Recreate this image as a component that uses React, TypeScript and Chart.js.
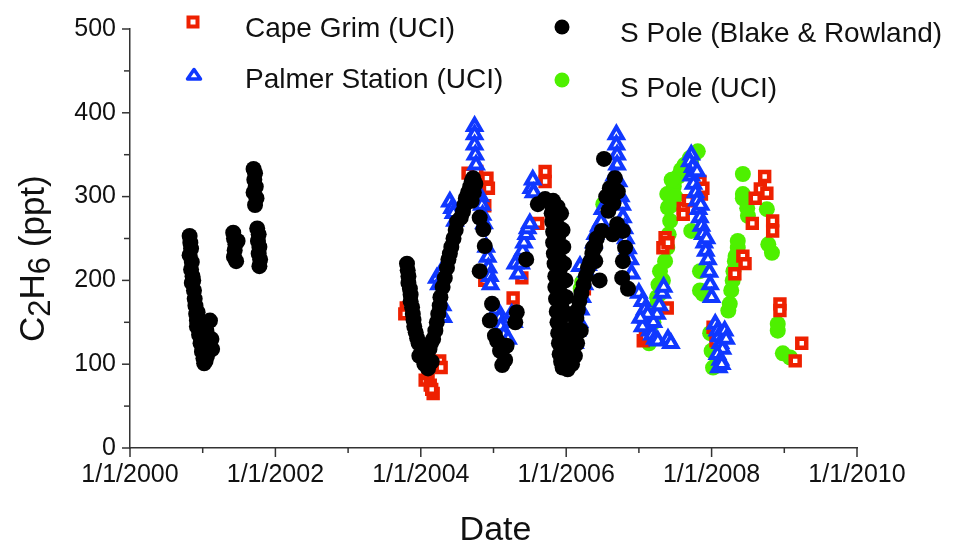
import React, { useEffect, useRef } from 'react';
import { Chart, registerables } from 'chart.js';

Chart.register(...registerables);

// ---------------- data (decimal year, ppt) ----------------
const capeGrimDates = [
  2003.80, 2003.78, 2004.06, 2004.10, 2004.13, 2004.17, 2004.15, 2004.26, 2004.28,
  2004.65, 2004.77, 2004.91, 2004.93, 2004.88, 2004.88,
  2005.27, 2005.39, 2005.61, 2005.71, 2005.71,
  2006.25,
  2007.06, 2007.09, 2007.33, 2007.36, 2007.39, 2007.40,
  2007.61, 2007.61, 2007.68, 2007.84, 2007.86, 2007.88,
  2008.02, 2008.06,
  2008.32, 2008.43, 2008.46,
  2008.56, 2008.60, 2008.67, 2008.73, 2008.76, 2008.84, 2008.84,
  2008.94, 2008.94, 2009.15, 2009.24,
];
const capeGrimValues = [
  167, 160, 81, 89, 75, 65, 70, 104, 96,
  328, 330, 322, 310, 289, 200,
  179, 203, 268, 330, 318,
  190,
  128, 133, 239, 251, 167, 245,
  286, 279, 295, 318, 303, 310,
  144, 128,
  208, 229, 220,
  268, 298, 309, 324, 304, 271, 259,
  172, 164, 104, 125,
];

const palmerDates = [
  2004.22, 2004.25, 2004.28, 2004.31, 2004.30, 2004.40, 2004.43, 2004.47, 2004.45,
  2004.74, 2004.74, 2004.74, 2004.75, 2004.76,
  2004.82, 2004.84, 2004.85, 2004.87, 2004.90, 2004.92, 2004.93, 2004.95, 2004.96,
  2005.05, 2005.08, 2005.10, 2005.14, 2005.20, 2005.25, 2005.28,
  2005.30, 2005.34, 2005.38, 2005.40, 2005.42, 2005.45, 2005.47, 2005.50, 2005.52, 2005.54, 2005.55,
  2006.12, 2006.15, 2006.18, 2006.19, 2006.20, 2006.22, 2006.25, 2006.28, 2006.30, 2006.35, 2006.38,
  2006.40, 2006.45, 2006.48, 2006.50,
  2006.69, 2006.69, 2006.70, 2006.70, 2006.66, 2006.72,
  2006.75, 2006.77, 2006.78, 2006.80, 2006.82, 2006.85, 2006.88, 2006.90,
  2007.00, 2007.05, 2007.08, 2007.10, 2007.12, 2007.15, 2007.18, 2007.22, 2007.26, 2007.20,
  2007.25, 2007.28, 2007.32, 2007.34, 2007.05, 2007.12, 2007.02, 2007.40, 2007.44,
  2007.72, 2007.70, 2007.74, 2007.72, 2007.75, 2007.78, 2007.80, 2007.82, 2007.84, 2007.86,
  2007.88, 2007.90, 2007.92, 2007.95, 2007.97, 2007.98, 2008.00, 2007.80, 2007.85, 2007.93,
  2008.05, 2008.08, 2008.10, 2008.12, 2008.15, 2008.18, 2008.20, 2008.08, 2008.12, 2008.10, 2008.14,
];
const palmerValues = [
  203, 195, 210, 156, 170, 294, 286, 271, 280,
  384, 374, 362, 350, 338,
  300, 290, 278, 268, 240, 228, 215, 205, 195,
  165, 155, 145, 135, 130, 160, 150,
  220, 208, 220, 235, 245, 255, 262, 268, 310, 320, 305,
  125, 140, 150, 217, 165, 180, 195, 210, 218, 230, 245,
  255, 265, 270, 285,
  374, 362, 350, 338, 325, 318,
  300, 290, 275, 262, 250, 238, 225, 208,
  185, 175, 165, 155, 148, 140, 135, 130, 128, 150,
  160, 170, 185, 192, 145, 160, 155, 130, 125,
  350, 342, 335, 325, 315, 305, 295, 285, 275, 265,
  255, 245, 235, 225, 210, 195, 180, 330, 290, 250,
  148, 140, 133, 125, 118, 140, 130, 112, 105, 96, 100,
];

const sPoleBRDates = [
  2000.82, 2000.83, 2000.84, 2000.82, 2000.85, 2000.84, 2000.86, 2000.85, 2000.88, 2000.89,
  2000.90, 2000.93, 2000.92, 2000.92, 2000.95, 2000.97, 2000.99, 2001.01, 2001.02, 2001.06,
  2001.10, 2001.12, 2001.13, 2001.08, 2001.05, 2000.87, 2000.91, 2001.04,
  2001.42, 2001.43, 2001.45, 2001.44, 2001.43, 2001.46, 2001.48,
  2001.70, 2001.72, 2001.71, 2001.73, 2001.70, 2001.74, 2001.72,
  2001.75, 2001.77, 2001.76, 2001.78, 2001.77, 2001.79, 2001.78,
  2003.81, 2003.82, 2003.83, 2003.83, 2003.85, 2003.86, 2003.86, 2003.88, 2003.89, 2003.90,
  2003.91, 2003.93, 2003.95, 2003.97, 2003.98, 2004.02, 2004.05, 2004.08, 2004.10, 2004.15,
  2004.12, 2004.14, 2004.17,
  2004.20, 2004.22, 2004.24, 2004.26, 2004.27, 2004.30, 2004.33, 2004.36, 2004.38, 2004.40,
  2004.42, 2004.45, 2004.48, 2004.50, 2004.55, 2004.58, 2004.60, 2004.62, 2004.65, 2004.68,
  2004.70, 2004.72, 2004.75, 2004.73, 2004.70,
  2004.81, 2004.86, 2004.88, 2004.81, 2004.98, 2004.95, 2005.02, 2005.09, 2005.16, 2005.12,
  2005.05, 2005.18,
  2005.32, 2005.30, 2005.45,
  2005.61, 2005.71, 2005.82,
  2005.80, 2005.88, 2005.80, 2005.87, 2005.81, 2005.88, 2005.82, 2005.89, 2005.82, 2005.90,
  2005.83, 2005.90, 2005.84, 2005.91, 2005.85, 2005.92, 2005.85, 2005.92, 2005.86, 2005.93,
  2005.87, 2005.94, 2005.88, 2005.95, 2005.89, 2005.96, 2005.90, 2005.97, 2005.91, 2005.98,
  2005.93, 2006.00, 2005.95, 2006.02, 2006.00, 2006.03,
  2005.93, 2005.95, 2005.96, 2005.97, 2005.99, 2006.00, 2006.03, 2006.05, 2006.05, 2006.07,
  2006.04, 2006.06, 2006.08, 2006.10, 2006.12, 2006.14, 2006.16, 2006.18, 2006.21, 2006.24,
  2006.27, 2006.30, 2006.33, 2006.36, 2006.40, 2006.42, 2006.08, 2006.12, 2006.15, 2006.20,
  2006.37, 2006.40, 2006.46, 2006.49, 2006.52, 2006.67, 2006.71, 2006.60, 2006.58, 2006.70,
  2006.78, 2006.81, 2006.78, 2006.77, 2006.85, 2006.62, 2006.65, 2006.55, 2006.64,
];
const sPoleBRValues = [
  253, 245, 238, 230, 222, 213, 205, 197, 188, 178,
  170, 162, 152, 145, 135, 125, 115, 107, 101, 110,
  152, 130, 118, 125, 140, 200, 160, 104,
  257, 250, 243, 236, 228, 223, 247,
  333, 328, 320, 312, 305, 298, 290,
  262, 255, 247, 240, 232, 225, 217,
  220, 212, 205, 197, 190, 183, 175, 168, 160, 153,
  145, 138, 131, 125, 110, 108, 100, 112, 95, 103,
  118, 125, 130,
  140, 150, 160, 170, 180, 192, 203, 215, 225, 232,
  240, 250, 260, 270, 275, 282, 290, 298, 305, 312,
  318, 322, 315, 305, 295,
  275, 261, 241, 211, 172, 152, 134, 116, 105, 99,
  128, 122,
  162, 150, 225,
  291, 297, 295,
  290, 288, 280, 278, 270, 265, 258, 252, 245, 240,
  232, 226, 220, 212, 205, 198, 192, 185, 178, 170,
  163, 157, 150, 143, 137, 130, 125, 118, 112, 108,
  103, 100, 96, 94, 110, 120,
  280, 260, 240, 220, 200, 180, 160, 140, 120, 105,
  105, 115, 125, 135, 145, 155, 165, 175, 185, 195,
  205, 215, 222, 232, 240, 250, 100, 110, 125, 140,
  239, 223, 200, 259, 345, 322, 306, 310, 283, 267,
  259, 239, 223, 203, 190, 300, 292, 300, 255,
];

const sPoleUCIDates = [
  2006.20, 2006.22, 2006.51,
  2007.14, 2007.17, 2007.22, 2007.25, 2007.27, 2007.20, 2007.24, 2007.30, 2007.33,
  2007.29, 2007.36, 2007.39, 2007.41, 2007.43, 2007.40, 2007.39, 2007.48, 2007.54, 2007.58,
  2007.45, 2007.50, 2007.45,
  2007.63, 2007.70, 2007.76, 2007.81, 2007.72,
  2007.72, 2007.84, 2007.84, 2007.88,
  2007.98, 2008.00, 2008.02, 2008.09, 2008.16,
  2008.23, 2008.25, 2008.27, 2008.29, 2008.30, 2008.32, 2008.33, 2008.36, 2008.36,
  2008.43, 2008.43, 2008.43, 2008.49, 2008.50, 2008.76, 2008.78, 2008.83,
  2008.91, 2008.91, 2008.98, 2009.08,
];
const sPoleUCIValues = [
  190, 198, 291,
  125, 135, 160, 180, 195, 150, 170, 185, 200,
  211, 223, 239, 255, 271, 287, 303, 312, 324, 332,
  290, 300, 320,
  338, 346, 350, 354, 340,
  259, 211, 188, 184,
  137, 116, 96, 102, 132,
  164, 172, 188, 200, 211, 223, 229, 239, 247,
  327, 298, 303, 286, 277, 285, 243, 233,
  148, 140, 113, 108,
];

const xTickLabelPrefix = '1/1/';
const yAxisTitleParts = [
  { text: 'C', sub: false },
  { text: '2', sub: true },
  { text: 'H', sub: false },
  { text: '6', sub: true },
  { text: ' (ppt)', sub: false },
];
const xAxisTitle = 'Date';

const COLORS = {
  red: '#ee2000',
  blue: '#1038ff',
  black: '#000000',
  green: '#4ef000',
  axis: '#333333',
};
const FONT = '"Liberation Sans", Arial, Helvetica, sans-serif';

const toPoints = (xs: number[], ys: number[]) => xs.map((x, i) => ({ x, y: ys[i] }));

const legendItems = [
  { label: 'Cape Grim (UCI)', style: 'rect', color: COLORS.red, mx: 193, my: 22, tx: 245, ty: 37 },
  { label: 'Palmer Station (UCI)', style: 'triangle', color: COLORS.blue, mx: 194, my: 75, tx: 245, ty: 88 },
  { label: 'S Pole (Blake & Rowland)', style: 'circle', color: COLORS.black, mx: 562, my: 27, tx: 620, ty: 42 },
  { label: 'S Pole (UCI)', style: 'circle', color: COLORS.green, mx: 562, my: 80, tx: 620, ty: 97 },
];

const decorPlugin = {
  id: 'decor',
  afterDraw(chart: any) {
    const ctx: CanvasRenderingContext2D = chart.ctx;
    const xs = chart.scales.x;
    const ys = chart.scales.y;
    const { left, bottom } = chart.chartArea;
    ctx.save();
    ctx.strokeStyle = COLORS.axis;
    ctx.lineWidth = 1.5;
    xs.ticks.forEach((t: any) => {
      const px = xs.getPixelForValue(t.value);
      const len = t.value % 2 === 0 ? 9 : 5;
      ctx.beginPath();
      ctx.moveTo(px, bottom);
      ctx.lineTo(px, bottom + len);
      ctx.stroke();
    });
    ys.ticks.forEach((t: any) => {
      const py = ys.getPixelForValue(t.value);
      const len = t.value % 100 === 0 ? 8 : 6;
      ctx.beginPath();
      ctx.moveTo(left, py);
      ctx.lineTo(left - len, py);
      ctx.stroke();
    });

    // y axis title with subscripts
    ctx.fillStyle = '#111';
    ctx.textBaseline = 'alphabetic';
    ctx.textAlign = 'left';
    ctx.save();
    ctx.translate(44, 342);
    ctx.rotate(-Math.PI / 2);
    let cx = 0;
    yAxisTitleParts.forEach((p) => {
      ctx.font = `${p.sub ? 31 : 35}px ${FONT}`;
      ctx.fillText(p.text, cx, p.sub ? 6 : 0);
      cx += ctx.measureText(p.text).width;
    });
    ctx.restore();

    // x axis title
    ctx.font = `34px ${FONT}`;
    ctx.textAlign = 'center';
    ctx.fillText(xAxisTitle, (chart.chartArea.left + chart.chartArea.right) / 2 + 2, 540);

    // legend
    legendItems.forEach((it) => {
      ctx.save();
      if (it.style === 'rect') {
        ctx.strokeStyle = it.color;
        ctx.lineWidth = 4;
        ctx.fillStyle = '#fff';
        ctx.beginPath();
        ctx.rect(it.mx - 4.5, it.my - 4.5, 9, 9);
        ctx.fill();
        ctx.stroke();
      } else if (it.style === 'triangle') {
        ctx.strokeStyle = it.color;
        ctx.lineWidth = 3.5;
        ctx.lineJoin = 'round';
        ctx.fillStyle = '#fff';
        ctx.beginPath();
        ctx.moveTo(it.mx, it.my - 5.5);
        ctx.lineTo(it.mx + 6.5, it.my + 4);
        ctx.lineTo(it.mx - 6.5, it.my + 4);
        ctx.closePath();
        ctx.fill();
        ctx.stroke();
      } else {
        ctx.fillStyle = it.color;
        ctx.beginPath();
        ctx.arc(it.mx, it.my, 7.5, 0, Math.PI * 2);
        ctx.fill();
      }
      ctx.restore();
      ctx.fillStyle = '#111';
      ctx.font = `28px ${FONT}`;
      ctx.textAlign = 'left';
      ctx.fillText(it.label, it.tx, it.ty);
    });
    ctx.restore();
  },
};

export default function App() {
  const canvasRef = useRef<HTMLCanvasElement | null>(null);

  useEffect(() => {
    document.body.style.margin = '0';
    const canvas = canvasRef.current;
    if (!canvas) return;
    const chart = new Chart(canvas, {
      type: 'scatter',
      data: {
        datasets: [
          {
            label: 'S Pole (Blake & Rowland)',
            data: toPoints(sPoleBRDates, sPoleBRValues),
            pointStyle: 'circle',
            pointRadius: 8,
            pointBackgroundColor: COLORS.black,
            pointBorderWidth: 0,
            order: 0,
          },
          {
            label: 'Palmer Station (UCI)',
            data: toPoints(palmerDates, palmerValues),
            pointStyle: 'triangle',
            pointRadius: 7.5,
            pointBackgroundColor: '#ffffff',
            pointBorderColor: COLORS.blue,
            pointBorderWidth: 4,
            order: 1,
          },
          {
            label: 'Cape Grim (UCI)',
            data: toPoints(capeGrimDates, capeGrimValues),
            pointStyle: 'rect',
            pointRadius: 6.3,
            pointBackgroundColor: '#ffffff',
            pointBorderColor: COLORS.red,
            pointBorderWidth: 4.5,
            order: 2,
          },
          {
            label: 'S Pole (UCI)',
            data: toPoints(sPoleUCIDates, sPoleUCIValues),
            pointStyle: 'circle',
            pointRadius: 8,
            pointBackgroundColor: COLORS.green,
            pointBorderWidth: 0,
            order: 3,
          },
        ],
      },
      options: {
        animation: false,
        responsive: false,
        devicePixelRatio: 1,
        layout: { padding: { left: 0, top: 27, right: 98, bottom: 0 } },
        plugins: {
          legend: { display: false },
          tooltip: { enabled: false },
        },
        scales: {
          x: {
            type: 'linear',
            min: 2000,
            max: 2010,
            afterFit: (s: any) => { s.height = 101; },
            grid: { display: true, drawOnChartArea: false, drawTicks: false },
            border: { display: true, color: COLORS.axis, width: 1.5 },
            ticks: {
              stepSize: 1,
              autoSkip: false,
              maxRotation: 0,
              padding: 12,
              color: '#111',
              font: { family: FONT, size: 25 },
              callback: (v: any) => (Number(v) % 2 === 0 ? `${xTickLabelPrefix}${v}` : ''),
            },
          },
          y: {
            type: 'linear',
            min: 0,
            max: 500,
            afterFit: (s: any) => { s.width = 130; },
            grid: { display: true, drawOnChartArea: false, drawTicks: false },
            border: { display: true, color: COLORS.axis, width: 1.5 },
            ticks: {
              stepSize: 50,
              autoSkip: false,
              padding: 14,
              color: '#111',
              font: { family: FONT, size: 25 },
              callback: (v: any) => (Number(v) % 100 === 0 ? String(v) : ''),
            },
          },
        },
      },
      plugins: [decorPlugin],
    } as any);
    return () => chart.destroy();
  }, []);

  return (
    <div style={{ width: 955, height: 549, background: '#fff' }}>
      <canvas ref={canvasRef} width={955} height={549} style={{ display: 'block' }} />
    </div>
  );
}
